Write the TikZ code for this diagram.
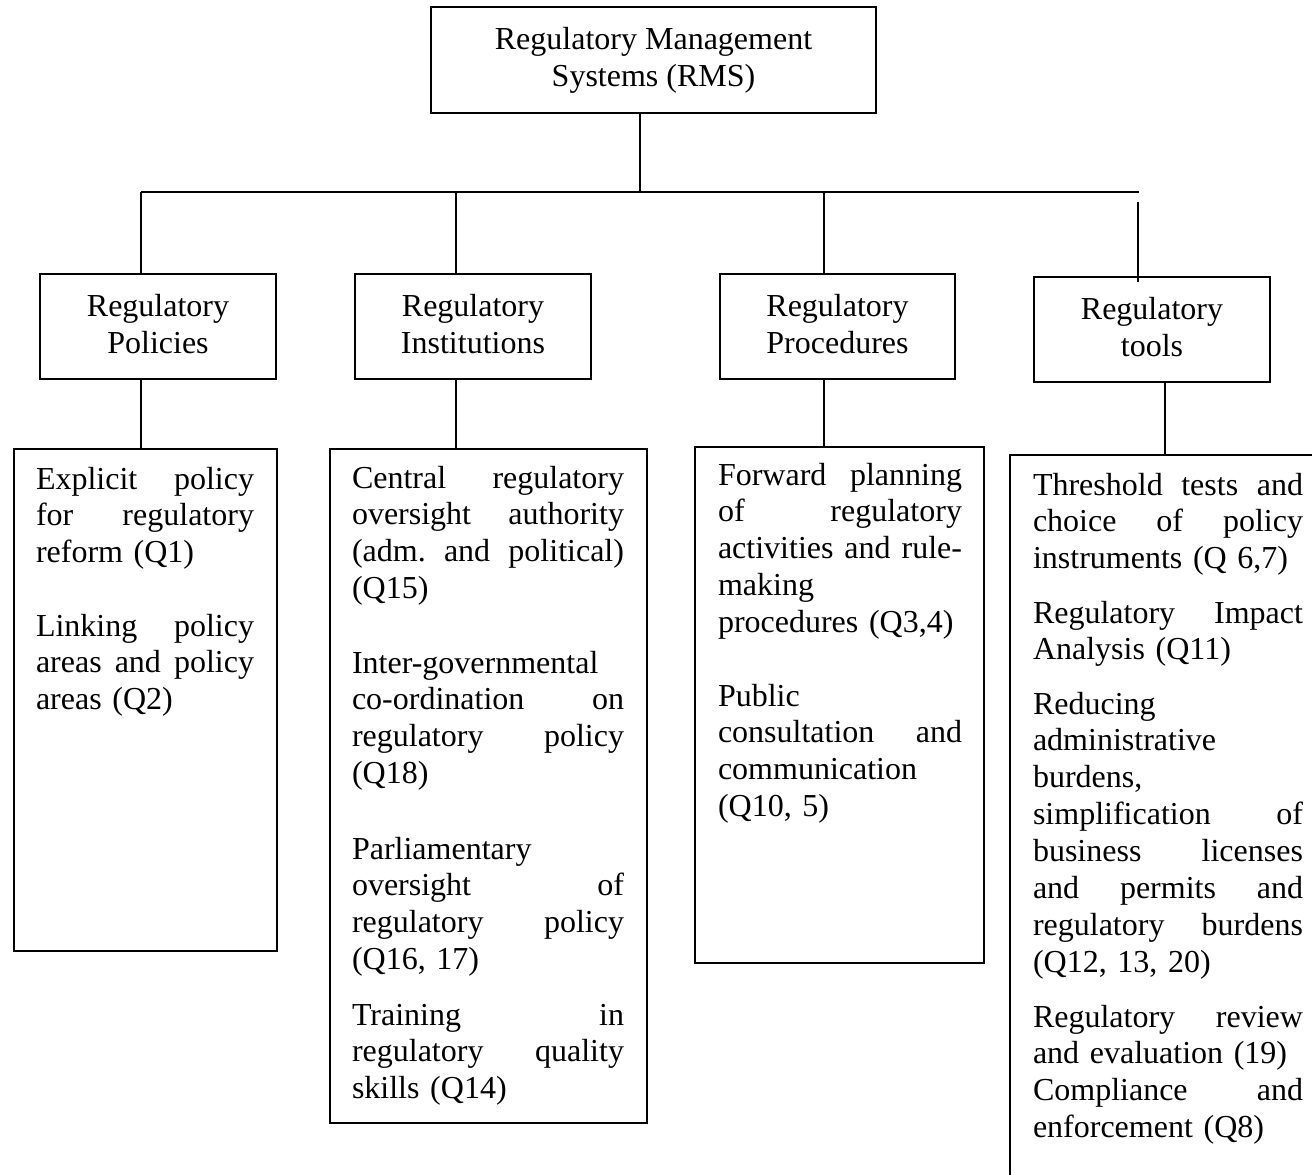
\documentclass[tikz,border=0pt]{standalone}
\usepackage{fontspec}
\setmainfont{Liberation Serif}
\newcommand{\jl}[1]{\leavevmode\hbox to \hsize{#1}}
\begin{document}
\begin{tikzpicture}[x=1pt,y=-1pt,
  every node/.style={inner sep=0pt, outer sep=0pt},
  txt/.style={font=\fontsize{32}{36.9}\selectfont},
  headbox/.style={draw, line width=2pt, rectangle, align=center, txt},
  midbox/.style={headbox, minimum height=105pt, text depth=6pt},
  detbox/.style={draw, line width=1.5pt, rectangle},
  para/.style={anchor=base west, align=left, txt},
  conn/.style={line width=1.5pt},
  bus/.style={line width=2.5pt}]
\useasboundingbox (0,0) rectangle (1312,1175);
\clip (0,0) rectangle (1312,1175);
% level 1 and 2
\node[headbox, minimum width=445pt, minimum height=106pt] (rms) at (653.5,60) {Regulatory Management\\Systems (RMS)};
\node[midbox, minimum width=236pt] (pol) at (158,326.5) {Regulatory\\Policies};
\node[midbox, minimum width=236pt] (ins) at (473,326.5) {Regulatory\\Institutions};
\node[midbox, minimum width=235pt] (pro) at (837.5,326.5) {Regulatory\\Procedures};
\node[midbox, minimum width=236pt] (too) at (1152,329.5) {Regulatory\\tools};
% level 3 boxes
\node[detbox, minimum width=263pt, minimum height=502pt] (pold) at (145.5,700) {};
\node[detbox, minimum width=317pt, minimum height=674pt] (insd) at (488.5,786) {};
\node[detbox, minimum width=289pt, minimum height=516pt] (prod) at (839.5,705) {};
\node[detbox, minimum width=320pt, minimum height=745pt] (tood) at (1170,827.5) {};
% bus
\coordinate (busL) at (141,192);
\coordinate (busR) at (1139,192);
\coordinate (d2) at (456,192);
\coordinate (d3) at (824,192);
\coordinate (d4) at (1138,202);
\coordinate (d5) at (1165,0);
\draw[conn] ([xshift=-13.5pt]rms.south) -- ([xshift=-13.5pt]rms.south |- busL);
\draw[bus] (busL) -- (busR);
\draw[conn] (busL) -- (busL |- pol.north);
\draw[conn] (d2) -- (d2 |- ins.north);
\draw[conn] (d3) -- (d3 |- pro.north);
\draw[conn] (d4) -- ([yshift=-5pt]too.north -| d4);
% level 2 to 3
\draw[conn] (pol.south -| busL) -- (pold.north -| busL);
\draw[conn] (ins.south -| d2) -- (insd.north -| d2);
\draw[conn] (pro.south -| d3) -- (prod.north -| d3);
\draw[conn] (too.south -| d5) -- (tood.north -| d5);
% texts
\node[para, text width=218pt] (p1) at (36,489) {\jl{Explicit\hfill policy}\\ \jl{for\hfill regulatory}\\ reform (Q1)};
\node[para, text width=218pt] (p2) at (36,636) {\jl{Linking\hfill policy}\\ \jl{areas\hfill and\hfill policy}\\ areas (Q2)};
\node[para, text width=272pt] (i1) at (352,488) {\jl{Central\hfill regulatory}\\ \jl{oversight\hfill authority}\\ \jl{(adm.\hfill and\hfill political)}\\ (Q15)};
\node[para, text width=272pt] (i2) at (352,673) {Inter-governmental\\ \jl{co-ordination\hfill on}\\ \jl{regulatory\hfill policy}\\ (Q18)};
\node[para, text width=272pt] (i3) at (352,859) {Parliamentary\\ \jl{oversight\hfill of}\\ \jl{regulatory\hfill policy}\\ (Q16, 17)};
\node[para, text width=272pt] (i4) at (352,1025) {\jl{Training\hfill in}\\ \jl{regulatory\hfill quality}\\ skills (Q14)};
\node[para, text width=244pt] (r1) at (718,485) {\jl{Forward\hfill planning}\\ \jl{of\hfill regulatory}\\ \jl{activities\hfill and\hfill rule-}\\ making\\ procedures (Q3,4)};
\node[para, text width=244pt] (r2) at (718,706) {Public\\ \jl{consultation\hfill and}\\ communication\\ (Q10, 5)};
\node[para, text width=270pt] (o1) at (1033,495) {\jl{Threshold\hfill tests\hfill and}\\ \jl{choice\hfill of\hfill policy}\\ instruments (Q 6,7)};
\node[para, text width=270pt] (o2) at (1033,623) {\jl{Regulatory\hfill Impact}\\ Analysis (Q11)};
\node[para, text width=270pt] (o3) at (1033,714) {Reducing\\ administrative\\ burdens,\\ \jl{simplification\hfill of}\\ \jl{business\hfill licenses}\\ \jl{and\hfill permits\hfill and}\\ \jl{regulatory\hfill burdens}\\ (Q12, 13, 20)};
\node[para, text width=270pt] (o4) at (1033,1027) {\jl{Regulatory\hfill review}\\ and evaluation (19)\\ \jl{Compliance\hfill and}\\ enforcement (Q8)};
\end{tikzpicture}
\end{document}
